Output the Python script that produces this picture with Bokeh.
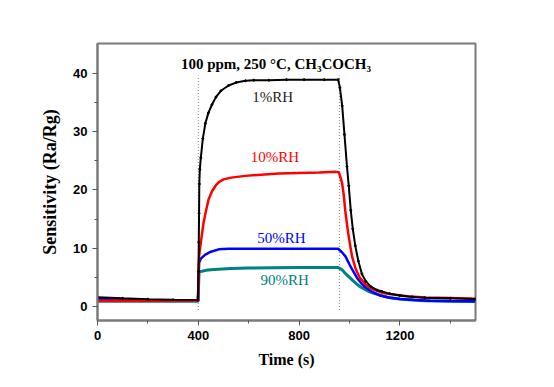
from bokeh.plotting import figure
from bokeh.models import Range1d, Label
from bokeh.core.properties import value
from bokeh.embed import file_html
from bokeh.resources import INLINE

# ---- data ----
t_1 = [0, 100, 200, 300, 398, 401, 402, 403, 404, 406, 410, 418, 428, 440, 454, 470, 490, 520, 550, 587, 620, 680, 750, 820, 900, 955,
       962, 971, 980, 990, 997, 1005, 1013, 1023, 1035, 1049, 1065, 1085, 1110, 1128, 1160, 1200, 1250, 1300, 1400, 1500]
s_1 = [1.6, 1.4, 1.25, 1.15, 1.1, 6.0, 11.0, 16.0, 21.0, 23.5, 25.5, 28.8, 31.4, 33.2, 34.6, 35.9, 37.0, 37.9, 38.4, 38.7, 38.8, 38.8, 38.9, 38.9, 38.9, 38.9,
       37.5, 34.4, 29.5, 24.0, 20.7, 16.5, 13.3, 10.4, 7.8, 5.6, 4.3, 3.4, 2.8, 2.6, 2.2, 1.9, 1.65, 1.5, 1.4, 1.3]

t_10 = [0, 100, 200, 300, 399, 401, 403, 410, 421, 430, 441, 455, 470, 481, 500, 530, 587, 650, 719, 800, 880, 944, 958,
        970, 977, 984, 995, 1010, 1025, 1040, 1063, 1090, 1120, 1150, 1182, 1230, 1300, 1400, 1500]
s_10 = [1.0, 1.0, 1.0, 1.0, 1.0, 4.0, 8.6, 11.0, 14.4, 16.3, 18.4, 19.8, 20.8, 21.3, 21.8, 22.1, 22.4, 22.6, 22.8, 22.9, 23.0, 23.1, 23.0,
        21.3, 19.2, 16.1, 12.5, 8.6, 6.4, 5.0, 3.8, 3.0, 2.5, 2.2, 2.0, 1.75, 1.55, 1.45, 1.35]

t_50 = [0, 100, 200, 300, 399, 401, 403, 410, 428, 450, 481, 520, 600, 700, 800, 900, 955,
        970, 984, 1000, 1010, 1030, 1050, 1063, 1090, 1120, 1160, 1200, 1260, 1320, 1400, 1500]
s_50 = [1.3, 1.2, 1.1, 1.05, 1.0, 4.5, 7.5, 8.2, 8.9, 9.4, 9.8, 9.9, 9.9, 9.9, 9.9, 9.9, 9.9,
        9.3, 8.6, 7.2, 6.4, 4.9, 3.8, 3.3, 2.5, 1.9, 1.5, 1.3, 1.1, 1.0, 0.95, 0.9]

t_90 = [0, 100, 200, 300, 399, 401, 403, 410, 430, 450, 480, 530, 600, 700, 800, 900, 955,
        970, 985, 1000, 1015, 1030, 1045, 1063, 1080, 1100, 1150, 1200, 1250, 1300, 1400, 1500]
s_90 = [0.9, 0.9, 0.9, 0.9, 0.9, 3.5, 5.8, 6.0, 6.2, 6.3, 6.4, 6.5, 6.6, 6.65, 6.7, 6.7, 6.7,
        6.3, 5.6, 5.0, 4.4, 3.8, 3.3, 2.9, 2.5, 2.2, 1.6, 1.3, 1.1, 1.0, 0.9, 0.85]

gas_events = [400, 960]

label_text = ["1%RH", "10%RH", "50%RH", "90%RH"]
label_x = [695, 704, 730, 743]
label_y = [35.9, 25.7, 11.8, 4.6]
label_color = ["#222222", "#ff0000", "#0000ff", "#008080"]

title_text = "100 ppm, 250 \u00b0C, CH\u2083COCH\u2083"
title_x = 708
title_y = 41.6

x_ticks = [0, 400, 800, 1200]
x_minor = [200, 600, 1000, 1400]
y_ticks = [0, 10, 20, 30, 40]
y_minor = [5, 15, 25, 35]

# ---- figure ----
p = figure(frame_width=378, frame_height=277,
           min_border_left=97, min_border_right=62, min_border_top=43, min_border_bottom=58,
           x_range=Range1d(0, 1500), y_range=Range1d(-2.4, 45.1),
           output_backend="svg", toolbar_location=None)
p.grid.visible = False
p.outline_line_color = "#7a7a7a"
p.outline_line_width = 2
p.background_fill_color = "white"
p.border_fill_color = "white"

for ax in (p.xaxis[0], p.yaxis[0]):
    ax.axis_line_color = "#7a7a7a"
    ax.axis_line_width = 2
    ax.major_tick_line_color = "#555555"
    ax.minor_tick_line_color = "#555555"
    ax.major_tick_in = 0
    ax.major_tick_out = 5
    ax.minor_tick_in = 0
    ax.minor_tick_out = 3
    ax.major_label_text_font = "Liberation Sans"
    ax.major_label_text_font_style = "bold"
    ax.major_label_text_font_size = "13px"
    ax.major_label_text_color = "black"
    ax.axis_label_text_font = "Liberation Serif"
    ax.axis_label_text_font_style = "bold"
    ax.axis_label_text_color = "black"

p.xaxis.axis_label_text_font_size = "16px"
p.yaxis.axis_label_text_font_size = "18px"
p.xaxis.ticker = x_ticks
p.yaxis.ticker = y_ticks
p.xaxis[0].ticker.minor_ticks = x_minor
p.yaxis[0].ticker.minor_ticks = y_minor
p.xaxis.axis_label = "Time (s)"
p.yaxis.axis_label = "Sensitivity (Ra/Rg)"
p.xaxis.axis_label_standoff = 8
p.yaxis.axis_label_standoff = 10

# gas on/off markers
p.segment(x0=gas_events, y0=[-0.6, -0.6], x1=gas_events, y1=[39.6, 39.6],
          line_color="#888888", line_dash="1 2", line_width=1)

# curves
p.line(t_90, s_90, line_color="#008080", line_width=3)
p.line(t_50, s_50, line_color="#0000ff", line_width=2.5)
p.line(t_10, s_10, line_color="#ff0000", line_width=2.5)
p.line(t_1, s_1, line_color="black", line_width=2)
p.scatter(t_1, s_1, size=2, color="black")

# labels
p.text(x=label_x, y=label_y, text=label_text, text_color=label_color,
       text_font=value("Liberation Serif"), text_font_size="15px",
       text_align="center", text_baseline="middle")
p.add_layout(Label(x=title_x, y=title_y, text=title_text, text_font="Liberation Serif",
                   text_font_style="bold", text_font_size="15px", text_align="center",
                   text_baseline="middle", text_color="black"))

open("out.html", "w").write(file_html(p, INLINE))
